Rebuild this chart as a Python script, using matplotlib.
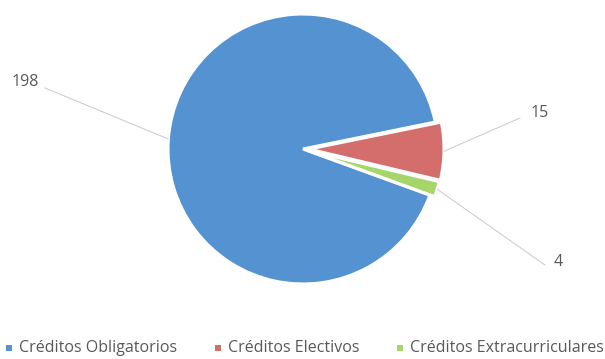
import matplotlib.pyplot as plt
import numpy as np

# values
categories = ['Créditos Obligatorios', 'Créditos Electivos', 'Créditos Extracurriculares']
values = [198, 15, 4]
colors = ['#5592D2', '#D46E6C', '#A6D56A']

W, H = 605, 359
TEXT_GREY = '#595959'


def px(x, y):  # pixel coords (top-left origin) -> axes data coords
    return x, H - y


fig = plt.figure(figsize=(W / 100, H / 100), dpi=100)
ax = fig.add_axes([0, 0, 1, 1])

center = px(303, 149)
radius = 135
wedges, _ = ax.pie(values, colors=colors, startangle=-20, counterclock=False,
                   center=center, radius=radius, explode=[0, 6, 5],
                   wedgeprops=dict(edgecolor='white', linewidth=2.2))

# pie() resets the limits, so fix them afterwards
ax.set_xlim(0, W)
ax.set_ylim(0, H)
ax.set_aspect('equal')
ax.axis('off')

# data labels with leader lines
label_pos = [(12, 82), (531, 113), (554, 262)]
line_end = [(45, 88), (520, 118), (545, 265)]
for w, v, lp, le in zip(wedges, values, label_pos, line_end):
    ang = np.deg2rad((w.theta1 + w.theta2) / 2)
    cx, cy = w.center
    ex = cx + w.r * np.cos(ang)
    ey = cy + w.r * np.sin(ang)
    lx, ly = px(*le)
    ax.plot([ex, lx], [ey, ly], color='#C8C8C8', lw=0.7, zorder=3)
    tx, ty = px(*lp)
    ax.text(tx, ty, str(v), fontsize=11.5, color=TEXT_GREY, family='Open Sans',
            ha='left', va='center')

# legend along the bottom
leg_x = [6, 215, 397]
leg_y = 348
for x, c, name in zip(leg_x, colors, categories):
    sx, sy = px(x, leg_y)
    ax.add_patch(plt.Rectangle((sx, sy - 3), 6, 6, color=c, lw=0))
    ax.text(sx + 13, sy, name, fontsize=11.5, color=TEXT_GREY, family='Open Sans',
            ha='left', va='center')

fig.savefig('out.png', dpi=100)
